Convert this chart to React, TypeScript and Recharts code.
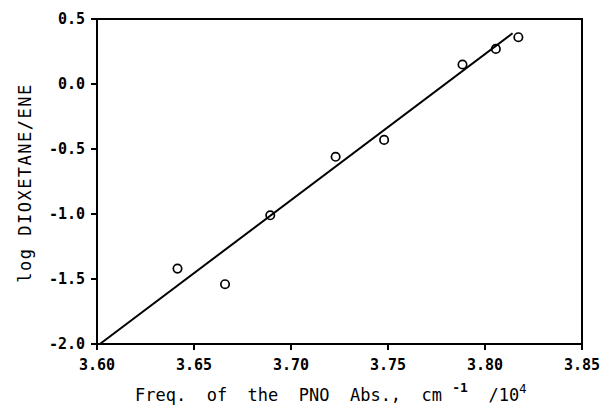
import React from "react";
import { ScatterChart, Scatter, XAxis, YAxis } from "recharts";

// measured points: PNO absorption frequency (cm^-1 / 10^4) vs log dioxetane/ene
const freq = [3.6415, 3.666, 3.6893, 3.723, 3.748, 3.7884, 3.8056, 3.8172];
const logRatio = [-1.42, -1.54, -1.01, -0.56, -0.43, 0.15, 0.27, 0.36];

// least squares line at its two ends
const fitFreq = [3.6015, 3.8142];
const fitLog = [-2.0, 0.39];

const xTicks = [3.6, 3.65, 3.7, 3.75, 3.8, 3.85];
const yTicks = [-2.0, -1.5, -1.0, -0.5, 0.0, 0.5];
const xDomain = [3.6, 3.85];
const yDomain = [-2, 0.5];

const points = freq.map((f, i) => ({ x: f, y: logRatio[i] }));
const fitLine = fitFreq.map((f, i) => ({ x: f, y: fitLog[i] }));
// box round the plot, taken from the two domains
const frame = [
    { x: xDomain[0], y: yDomain[0] },
    { x: xDomain[1], y: yDomain[0] },
    { x: xDomain[1], y: yDomain[1] },
    { x: xDomain[0], y: yDomain[1] },
    { x: xDomain[0], y: yDomain[0] },
];

const font = "'DejaVu Sans Mono', 'Liberation Mono', monospace";
const lineStyle = { stroke: "#000", strokeWidth: 2 };
const TICK = 6;

const OpenCircle = (props: any) => (
    <circle cx={props.cx} cy={props.cy} r={4.2} fill="none" stroke="#000" strokeWidth={1.7} />
);
const NoShape = () => <g />;

// tick marks drawn as paths together with their labels
const BottomTick = ({ x, y, payload }: any) => (
    <g>
        <path d={`M${x},${y}v${TICK}`} fill="none" {...lineStyle} />
        <text x={x} y={y + 26} textAnchor="middle" fill="#000" fontSize={15} fontWeight={700} fontFamily={font}>
            {payload.value.toFixed(2)}
        </text>
    </g>
);
const LeftTick = ({ x, y, payload }: any) => (
    <g>
        <path d={`M${x},${y}h${-TICK}`} fill="none" {...lineStyle} />
        <text x={x - 12} y={y + 5} textAnchor="end" fill="#000" fontSize={15} fontWeight={700} fontFamily={font}>
            {payload.value.toFixed(1)}
        </text>
    </g>
);
const TopTick = ({ x, y }: any) => <path d={`M${x},${y}v${-TICK}`} fill="none" {...lineStyle} />;
const RightTick = ({ x, y }: any) => <path d={`M${x},${y}h${TICK}`} fill="none" {...lineStyle} />;

const XTitle = () => (
    <text x={135} y={401} fill="#000" fontSize={17} fontFamily={font} style={{ whiteSpace: "pre" }}>
        {"Freq.  of  the  PNO  Abs.,  cm "}
        <tspan dy={-9} fontSize={13} fontWeight={700}>-1</tspan>
        <tspan dy={9}>{"  /10"}</tspan>
        <tspan dy={-8} fontSize={12}>4</tspan>
    </text>
);

const YTitle = () => (
    <text
        x={0}
        y={0}
        transform="translate(31,183) rotate(-90)"
        textAnchor="middle"
        fill="#000"
        fontSize={17}
        letterSpacing={1.5}
        fontFamily={font}
    >
        log DIOXETANE/ENE
    </text>
);

export default function App() {
    return (
        <div style={{ position: "absolute", left: 0, top: 0 }}>
            <ScatterChart width={600} height={407} margin={{ top: 18, right: 17, bottom: 0, left: 0 }}>
                <XAxis
                    type="number"
                    dataKey="x"
                    domain={xDomain}
                    ticks={xTicks}
                    height={63}
                    tickSize={0}
                    tickMargin={0}
                    tick={<BottomTick />}
                    axisLine={false}
                    label={<XTitle />}
                />
                <XAxis
                    xAxisId="top"
                    orientation="top"
                    type="number"
                    domain={xDomain}
                    ticks={xTicks}
                    height={1}
                    tickSize={0}
                    tickMargin={0}
                    tick={<TopTick />}
                    axisLine={false}
                />
                <YAxis
                    type="number"
                    dataKey="y"
                    domain={yDomain}
                    ticks={yTicks}
                    width={97}
                    tickSize={0}
                    tickMargin={0}
                    tick={<LeftTick />}
                    axisLine={false}
                    label={<YTitle />}
                />
                <YAxis
                    yAxisId="right"
                    orientation="right"
                    type="number"
                    domain={yDomain}
                    ticks={yTicks}
                    width={1}
                    tickSize={0}
                    tickMargin={0}
                    tick={<RightTick />}
                    axisLine={false}
                />
                <Scatter data={frame} line={lineStyle} shape={<NoShape />} isAnimationActive={false} />
                <Scatter data={fitLine} line={lineStyle} shape={<NoShape />} isAnimationActive={false} />
                <Scatter data={points} shape={<OpenCircle />} isAnimationActive={false} />
            </ScatterChart>
        </div>
    );
}
